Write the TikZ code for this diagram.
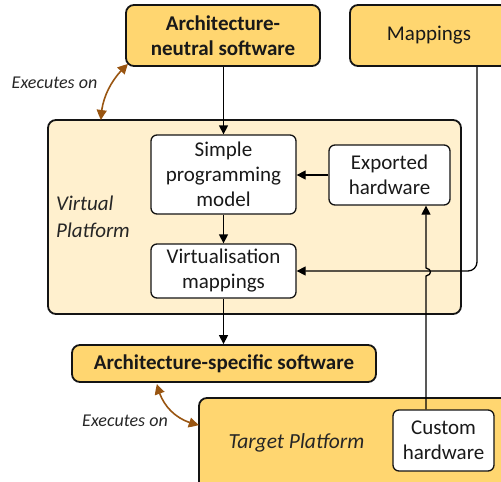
\documentclass[tikz,border=0pt]{standalone}
\usepackage{fontspec}
\setmainfont{Carlito}
\usetikzlibrary{arrows.meta,calc,bending}
\definecolor{gold}{RGB}{255,214,112}
\definecolor{vpfill}{RGB}{255,240,206}
\definecolor{brownarr}{RGB}{153,85,17}
\definecolor{edge}{RGB}{20,20,20}
\tikzset{
  goldbox/.style={draw=edge,line width=1.8pt,fill=gold,rounded corners=8pt,align=center,inner sep=0pt,text=black!90,font=\fontsize{21}{25}\selectfont},
  whitebox/.style={draw=edge,line width=1.3pt,fill=white,rounded corners=6pt,align=center,inner sep=0pt,text=black!90,font=\fontsize{21}{25}\selectfont},
  conn/.style={line width=1.3pt,-{Triangle[length=9pt,width=9pt]}},
  exec/.style={brownarr,line width=1.6pt,{Triangle[length=10pt,width=10pt,bend]}-{Triangle[length=10pt,width=10pt,bend]}},
  execlbl/.style={font=\fontsize{18}{22}\selectfont\itshape,text=black!85,inner sep=0pt}
}
\begin{document}
\begin{tikzpicture}[x=1pt,y=-1pt]
\useasboundingbox (0,0) rectangle (501,482);
\clip (0,0) rectangle (501,482);
% big boxes
\node[goldbox,minimum width=194pt,minimum height=61pt] (neutral) at (223,35.5) {\bfseries Architecture-\\\bfseries neutral software};
\node[goldbox,minimum width=158pt,minimum height=61pt] (mappings) at (429,35.5) {Mappings};
\node[draw=edge,line width=1.8pt,fill=vpfill,rounded corners=8pt,minimum width=413pt,minimum height=194pt,inner sep=0pt] (vp) at (254.5,217) {};
\node[goldbox,minimum width=304pt,minimum height=37pt] (as) at (224,363.5) {\bfseries Architecture-specific software};
\node[goldbox,minimum width=321pt,minimum height=102pt] (tp) at (359.5,449) {};
% inner boxes
\node[whitebox,minimum width=145pt,minimum height=79pt] (simple) at (223.5,174.5) {Simple\\programming\\model};
\node[whitebox,minimum width=121pt,minimum height=60pt] (exported) at (389.5,175) {Exported\\hardware};
\node[whitebox,minimum width=145pt,minimum height=54pt] (virt) at (223.5,271) {Virtualisation\\mappings};
\node[whitebox,minimum width=101pt,minimum height=61pt] (custom) at (443.5,440.5) {Custom\\hardware};
% labels
\node[font=\fontsize{21}{27}\selectfont\itshape,align=left,anchor=west,inner sep=0pt,text=black!85] (vplbl) at (56,217) {Virtual\\Platform};
\node[font=\fontsize{21.5}{25}\selectfont\itshape,inner sep=0pt,text=black!85] (tplbl) at (296.5,443) {Target Platform};
\node[execlbl] (ex1) at (54.5,83) {Executes on};
\node[execlbl] (ex2) at (125,421) {Executes on};
% connectors
\draw[conn] (neutral.south -| simple.north) -- (simple.north);
\draw[conn] (simple.south) -- (virt.north);
\draw[conn] (exported.west) -- (exported.west -| simple.east);
\draw[conn] (virt.south) -- (virt.south |- as.north);
\coordinate (mx) at (477,0);
\draw[conn,rounded corners=9pt] (mappings.south -| mx) |- (virt.east);
\coordinate (hx) at (426,0);
\coordinate (hyA) at (0,276);
\coordinate (hyB) at (0,268);
\draw[conn] (custom.north -| hx) -- (hx |- hyA) .. controls ($(hx |- hyA)+(6,-1)$) and ($(hx |- hyB)+(6,1)$) .. (hx |- hyB) -- (hx |- exported.south);
% executes on arrows
\coordinate (e1a) at (128,64);
\coordinate (e1b) at (101,120);
\draw[exec] (e1a) .. controls (112,78) and (101,98) .. (e1b);
\coordinate (e2a) at (157,384);
\coordinate (e2b) at (199,425);
\draw[exec] (e2a) .. controls (161,405) and (176,421) .. (e2b);
\end{tikzpicture}
\end{document}
